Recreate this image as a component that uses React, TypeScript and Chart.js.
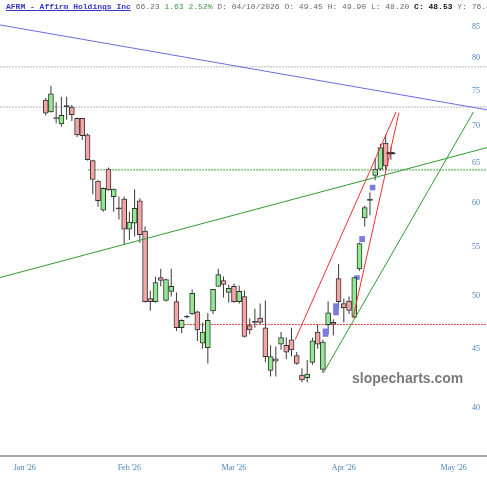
import React, { useEffect, useRef } from "react";
import { Chart, registerables } from "chart.js";

Chart.register(...registerables);

// ---- data (trading-day index 0 = first candle) ----
const opens = [73.6, 71.9, 71.1, 70.2, 72.75, 72.6, 71.0, 71.0, 68.7, 65.3, 62.7, 59.2, 64.2, 60.8, 59.45, 60.5, 57.0, 57.7, 60.3, 56.8, 49.7, 49.4, 51.8, 49.5, 50.4, 49.4, 46.9, 48.0, 48.2, 48.4, 45.5, 45.1, 48.5, 50.9, 51.5, 50.3, 50.9, 49.4, 49.9, 47.1, 47.5, 47.8, 46.9, 43.1, 44.1, 45.4, 45.3, 45.8, 44.4, 42.7, 42.5, 43.8, 46.5, 43.2, 47.2, 47.4, 51.7, 49.2, 49.45, 47.9, 52.7, 58.3, 60.45, 63.4, 64.2, 67.6, 66.28];
const highs = [73.9, 75.7, 73.3, 74.1, 74.1, 72.9, 71.1, 71.0, 68.9, 65.4, 62.8, 61.9, 64.4, 61.8, 60.8, 60.8, 59.0, 61.7, 60.6, 57.3, 50.5, 51.9, 52.7, 51.7, 52.7, 50.3, 47.7, 48.1, 50.6, 48.5, 47.4, 48.3, 50.6, 52.7, 51.9, 51.1, 51.2, 51.0, 50.5, 47.8, 48.7, 49.2, 49.5, 45.3, 45.2, 46.5, 46.0, 46.9, 44.7, 43.3, 44.0, 46.0, 47.2, 45.8, 49.4, 47.7, 53.2, 49.7, 49.9, 51.9, 55.5, 59.7, 61.3, 65.6, 67.5, 68.8, 67.1];
const lows = [71.4, 71.8, 70.3, 69.8, 70.8, 70.6, 68.4, 68.0, 65.3, 61.1, 59.6, 59.0, 61.5, 59.0, 58.1, 55.25, 55.8, 56.2, 55.5, 49.3, 48.5, 49.3, 50.9, 49.4, 49.9, 46.6, 46.4, 47.8, 48.1, 45.7, 45.0, 43.7, 48.2, 50.9, 49.8, 49.3, 49.3, 49.2, 46.0, 46.3, 46.9, 47.2, 43.8, 42.6, 42.6, 44.9, 44.1, 44.3, 43.6, 42.1, 42.1, 43.6, 45.0, 42.9, 46.3, 46.2, 48.7, 47.4, 48.2, 47.8, 52.5, 57.3, 58.6, 62.8, 64.0, 64.1, 65.4];
const closes = [71.7, 74.5, 70.9, 71.4, 72.65, 71.5, 68.7, 68.6, 65.4, 62.9, 60.3, 61.8, 61.6, 61.7, 59.35, 57.0, 57.8, 59.4, 56.4, 49.4, 49.4, 51.3, 51.5, 51.6, 50.9, 46.9, 47.6, 47.9, 50.2, 46.7, 46.5, 47.6, 50.6, 52.1, 51.1, 50.7, 49.4, 50.4, 46.1, 46.7, 47.4, 47.4, 44.3, 44.3, 43.9, 46.0, 44.7, 44.9, 43.7, 42.3, 42.8, 45.7, 45.4, 45.6, 48.3, 47.25, 49.4, 48.8, 48.53, 51.8, 55.4, 59.5, 60.35, 64.2, 67.0, 64.6, 66.23];

// gap boxes (between candles)
const gapIdx = [53.5, 55.5, 59.5, 60.5, 62.5];
const gapLo = [46.1, 48.1, 51.6, 55.6, 61.6];
const gapHi = [46.8, 49.2, 52.0, 56.2, 62.2];

// month tick labels
const monthLabels = ["Jan '26", "Feb '26", "Mar '26", "Apr '26", "May '26"];
const monthIdx = [-4, 16, 36, 57, 78];

// price axis ticks
const priceTicks = [40, 45, 50, 55, 60, 65, 70, 75, 80, 85];

// trend lines: [x1, y1, x2, y2] in (index, price)
const blueLine = [-8.74, 85.4, 84.4, 72.2];
const greenLongLine = [-8.74, 51.8, 84.4, 67.0];
const greenSteepLine = [53.1, 42.9, 81.8, 71.9];
const redLine1 = [47.7, 45.8, 67.0, 71.9];
const redLine2 = [58.75, 47.8, 67.55, 71.8];
// horizontal levels: [fromIndex, price]
const grayLevel1 = [-8.74, 78.6];
const grayLevel2 = [-8.74, 72.6];
const greenLevel = [8.1, 64.1];
const redLevel = [24.7, 47.2];

const lastPrice = 66.23;
const headerTitle = "AFRM - Affirm Holdings Inc";
const headerLast = "66.23";
const headerChange = "1.63 2.52%";
const headerOHL = "D: 04/10/2026 O: 49.45 H: 49.90 L: 48.20";
const headerClose = "C: 48.53";
const headerPrev = "Y: 76.48";

const X_MIN = -8.74;
const X_MAX = 84.38;
const Y_MIN = 36.39;
const Y_MAX = 89.72;

const AXIS_COLOR = "#4a84be";

function seg(l: number[]) {
  return [{ x: l[0], y: l[1] }, { x: l[2], y: l[3] }];
}
function level(l: number[]) {
  return [{ x: l[0], y: l[1] }, { x: X_MAX + 2, y: l[1] }];
}

export default function App() {
  const ref = useRef<HTMLCanvasElement | null>(null);

  useEffect(() => {
    if (!ref.current) return;
    const bodyColors = opens.map((o, i) => {
      const c = closes[i];
      if (Math.abs(c - o) < 0.12) return "#333333";
      return c >= o ? "#90e890" : "#f4a4a4";
    });
    const lineDs = (data: any[], color: string, order: number, dash?: number[]) => ({
      type: "line" as const,
      data,
      borderColor: color,
      borderWidth: 1,
      borderDash: dash || [],
      pointRadius: 0,
      tension: 0,
      fill: false,
      order,
    });
    const chart = new Chart(ref.current, {
      type: "bar",
      data: {
        datasets: [
          lineDs(level(grayLevel1), "#b4b4b4", 9, [2, 1]),
          lineDs(level(grayLevel2), "#b4b4b4", 9, [2, 1]),
          lineDs(level(greenLevel), "#3aaa3a", 9, [2, 1]),
          lineDs(level(redLevel), "#e03a3a", 9, [2, 1]),
          {
            type: "bar",
            data: lows.map((l, i) => ({ x: i, y: [l, highs[i]] })),
            backgroundColor: "#3a3a3a",
            barThickness: 1,
            grouped: false,
            inflateAmount: 0,
            order: 8,
          },
          {
            type: "bar",
            data: gapIdx.map((x, i) => ({ x, y: [gapLo[i], gapHi[i]] })),
            backgroundColor: "#7b7be2",
            barThickness: 5,
            grouped: false,
            order: 7,
          },
          {
            type: "bar",
            data: opens.map((o, i) => ({ x: i, y: [o, closes[i]] })),
            backgroundColor: bodyColors,
            borderColor: "#333333",
            borderWidth: 1,
            borderSkipped: false,
            barThickness: 5,
            minBarLength: 1,
            grouped: false,
            order: 6,
          },
          {
            type: "bar",
            data: [{ x: opens.length - 1, y: [lastPrice - 0.06, lastPrice + 0.06] }],
            backgroundColor: "#222222",
            barThickness: 8,
            minBarLength: 1,
            grouped: false,
            order: 5,
          },
          lineDs(seg(blueLine), "#6c6ce0", 1),
          lineDs(seg(greenLongLine), "#2f9a2f", 1),
          lineDs(seg(greenSteepLine), "#2f9a2f", 1),
          lineDs(seg(redLine1), "#ee3030", 1),
          lineDs(seg(redLine2), "#ee3030", 1),
        ] as any,
      },
      options: {
        responsive: false,
        animation: false,
        devicePixelRatio: 1,
        layout: { padding: 0 },
        plugins: { legend: { display: false }, tooltip: { enabled: false } },
        scales: {
          x: {
            type: "linear",
            min: X_MIN,
            max: X_MAX,
            offset: false,
            grid: { display: false, drawTicks: false },
            border: { display: true, color: "#a8a8a8", width: 2 },
            afterBuildTicks: (axis: any) => {
              axis.ticks = monthIdx.map((v) => ({ value: v }));
            },
            afterFit: (s: any) => {
              s.height = 24;
              s.paddingLeft = 0;
              s.paddingRight = 0;
            },
            ticks: {
              autoSkip: false,
              maxRotation: 0,
              padding: 7,
              color: AXIS_COLOR,
              font: { family: "'Liberation Serif', serif", size: 8 },
              callback: (_v: any, i: number) => monthLabels[i],
            },
          },
          y: {
            type: "logarithmic",
            position: "right",
            min: Y_MIN,
            max: Y_MAX,
            bounds: "data",
            grid: { display: false, drawTicks: false },
            border: { display: false },
            afterBuildTicks: (axis: any) => {
              axis.ticks = priceTicks.map((v) => ({ value: v }));
            },
            afterFit: (s: any) => {
              s.width = 0;
              s.paddingTop = 0;
              s.paddingBottom = 0;
            },
            ticks: {
              mirror: true,
              padding: -7,
              color: AXIS_COLOR,
              font: { family: "'Liberation Serif', serif", size: 8 },
              callback: (v: any) => String(v),
            },
          },
        },
      } as any,
    });
    return () => chart.destroy();
  }, []);

  return (
    <div style={{ position: "absolute", left: 0, top: 0, width: 487, height: 480, background: "#fff", overflow: "hidden" }}>
      <canvas ref={ref} width={487} height={480} style={{ display: "block", width: 487, height: 480 }} />
      <div
        style={{
          position: "absolute",
          left: 6,
          top: 2,
          width: 481,
          overflow: "hidden",
          whiteSpace: "pre",
          font: "8px 'Liberation Mono', monospace",
          lineHeight: "10px",
          color: "#6a6a6a",
        }}
      >
        <span style={{ color: "#3838c8", fontWeight: "bold", textDecoration: "underline" }}>{headerTitle}</span>
        {" " + headerLast + " "}
        <span style={{ color: "#3c9a3c" }}>{headerChange}</span>
        {" " + headerOHL + " "}
        <span style={{ color: "#111", fontWeight: "bold" }}>{headerClose}</span>
        {" " + headerPrev}
      </div>
      <div
        style={{
          position: "absolute",
          left: 352,
          top: 371,
          font: "bold 14px 'Liberation Sans', Arial, sans-serif",
          lineHeight: "14px",
          color: "#7a7a7a",
          whiteSpace: "nowrap",
        }}
      >
        slopecharts.com
      </div>
    </div>
  );
}
